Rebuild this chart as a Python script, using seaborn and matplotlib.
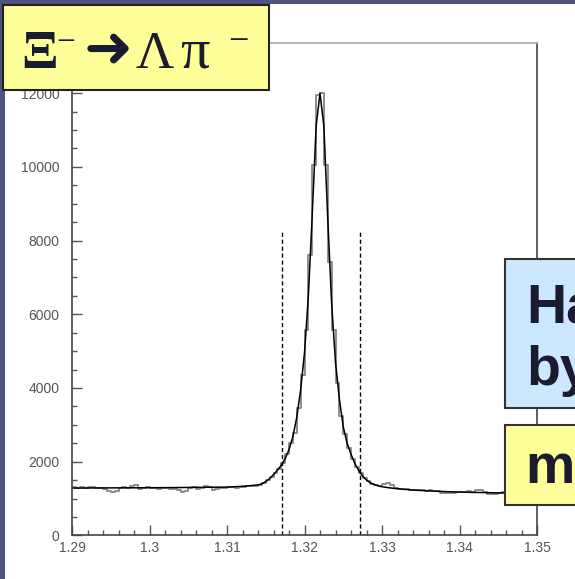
import numpy as np
import pandas as pd
import matplotlib
matplotlib.use("Agg")
import matplotlib.pyplot as plt
import seaborn as sns
from matplotlib.patches import Rectangle
from matplotlib.ticker import MultipleLocator

# Lambda-pi invariant mass spectrum, 0.5 MeV bins from 1.29 to 1.35 GeV
bin_lo = 1.29
bin_width = 0.0005
counts = [
    1300, 1290, 1310, 1295, 1320, 1325, 1290, 1280, 1270, 1200,
    1190, 1215, 1290, 1300, 1285, 1340, 1370, 1260, 1290, 1300,
    1275, 1290, 1260, 1280, 1295, 1270, 1260, 1240, 1190, 1210,
    1290, 1300, 1270, 1285, 1330, 1310, 1220, 1250, 1280, 1290,
    1300, 1310, 1295, 1320, 1310, 1330, 1340, 1350, 1380, 1420,
    1500, 1590, 1700, 1800, 1960, 2200, 2500, 2780, 3450, 4350,
    5570, 7600, 10040, 11950, 12000, 10040, 7430, 5570, 4130, 3250,
    2750, 2380, 2080, 1850, 1690, 1560, 1470, 1400, 1360, 1330,
    1390, 1410, 1380, 1290, 1270, 1260, 1250, 1240, 1230, 1245,
    1220, 1200, 1230, 1210, 1195, 1150, 1140, 1145, 1150, 1170,
    1190, 1180, 1200, 1190, 1230, 1225, 1180, 1120, 1115, 1130,
    1160, 1170, 1150, 1180, 1160, 1140, 1170, 1150, 1160, 1140,
]

# Fitted line shape (signal + background), evaluated at the bin edges
fit_counts = [
    1285, 1285, 1285, 1286, 1286, 1287, 1287, 1288, 1288, 1289,
    1289, 1290, 1290, 1290, 1291, 1291, 1292, 1292, 1293, 1293,
    1294, 1294, 1295, 1295, 1296, 1297, 1297, 1298, 1299, 1300,
    1301, 1302, 1303, 1304, 1305, 1306, 1307, 1308, 1309, 1310,
    1310, 1315, 1320, 1326, 1333, 1340, 1350, 1360, 1370, 1400,
    1460, 1540, 1650, 1770, 1900, 2080, 2330, 2680, 3200, 3950,
    4950, 6500, 8700, 11100, 12000, 11100, 8600, 6300, 4700, 3700,
    2950, 2500, 2200, 1950, 1760, 1610, 1500, 1430, 1380, 1345,
    1320, 1305, 1290, 1277, 1266, 1256, 1247, 1239, 1232, 1225,
    1219, 1213, 1208, 1203, 1198, 1194, 1190, 1186, 1183, 1180,
    1177, 1174, 1171, 1168, 1166, 1164, 1162, 1160, 1158, 1156,
    1154, 1152, 1150, 1149, 1147, 1146, 1144, 1143, 1142, 1141,
    1140,
]

# Mass window cuts
cut_lo, cut_hi = 1.3171, 1.3271
cut_top = 8250

x_ticks = [1.29, 1.30, 1.31, 1.32, 1.33, 1.34, 1.35]
x_labels = ["1.29", "1.3", "1.31", "1.32", "1.33", "1.34", "1.35"]
y_ticks = [0, 2000, 4000, 6000, 8000, 10000, 12000]
y_labels = ["0", "2000", "4000", "6000", "8000", "10000", "12000"]

W, H = 575, 579


def fxy(x, y):
    return x / W, 1 - y / H


sns.set_theme(style="white")
plt.rcParams["font.family"] = ["Liberation Sans", "DejaVu Sans"]

fig = plt.figure(figsize=(W / 100, H / 100), dpi=100, facecolor="#52527f")
fig.patches.append(Rectangle((5 / W, 0), 1, 1 - 4 / H, transform=fig.transFigure,
                             facecolor="white", edgecolor="none", zorder=-5))

ax = fig.add_axes([72 / W, (H - 535.4) / H, 465 / W, (535.4 - 43) / H])
ax.set_facecolor("white")
ax.set_zorder(1)

edges = [bin_lo + bin_width * i for i in range(len(counts) + 1)]
hist_df = pd.DataFrame({"mass": [e + bin_width / 2 for e in edges[:-1]],
                        "entries": counts})
fit_df = pd.DataFrame({"mass": edges, "fit": fit_counts})

sns.histplot(data=hist_df, x="mass", weights="entries", bins=edges, element="step",
             fill=False, color="#8c8c8c", linewidth=1.4, ax=ax)
sns.lineplot(data=fit_df, x="mass", y="fit", color="black", linewidth=1.1, ax=ax)
ax.vlines([cut_lo, cut_hi], 0, cut_top, colors="black", linewidth=1.0,
          linestyles=(0, (3, 2)))

ax.set_xlim(1.29, 1.35)
ax.set_ylim(0, 13360)
ax.set_xlabel("")
ax.set_ylabel("")
ax.set_xticks(x_ticks, x_labels)
ax.set_yticks(y_ticks, y_labels)
ax.xaxis.set_minor_locator(MultipleLocator(0.002))
ax.yaxis.set_minor_locator(MultipleLocator(500))
ax.tick_params(axis="both", which="both", direction="in", color="#555555",
               labelcolor="#555555", labelsize=10, width=1.0)
ax.tick_params(axis="both", which="major", length=7)
ax.tick_params(axis="both", which="minor", length=3.5)
ax.tick_params(axis="y", which="both", left=True, right=False, pad=9)
ax.tick_params(axis="x", which="both", bottom=True, top=False, pad=4)

for side in ["left", "bottom", "right"]:
    ax.spines[side].set_color("#444444")
    ax.spines[side].set_linewidth(1.2)
ax.spines["top"].set_color("#aaaaaa")
ax.spines["top"].set_linewidth(1.2)

ink = "#1b1b2f"

# Title box: decay channel
fig.patches.append(Rectangle(fxy(3, 90), 266 / W, 85 / H, transform=fig.transFigure,
                             facecolor="#ffff99", edgecolor="#222222", linewidth=1.5,
                             zorder=5))
serif = ["Liberation Serif", "DejaVu Serif"]
fig.text(*fxy(21, 68), "Ξ", family=serif, fontsize=39, fontweight="bold", color=ink,
         zorder=6, va="baseline", ha="left")
fig.text(*fxy(56, 51), "−", family=serif, fontsize=24, color=ink, zorder=6,
         va="baseline", ha="left")
fig.text(*fxy(84, 67), "➜", family=["DejaVu Sans"], fontsize=42, color=ink, zorder=6,
         va="baseline", ha="left", fontweight="bold")
fig.text(*fxy(135, 68), "Λ", family=serif, fontsize=38, color=ink, zorder=6,
         va="baseline", ha="left")
fig.text(*fxy(180, 68), "π", family=serif, fontsize=42, color=ink, zorder=6,
         va="baseline", ha="left")
fig.text(*fxy(228, 51), "−", family=serif, fontsize=26, color=ink, zorder=6,
         va="baseline", ha="left")

# Side boxes
fig.patches.append(Rectangle(fxy(505, 408), 200 / W, 149 / H, transform=fig.transFigure,
                             facecolor="#cce8ff", edgecolor="#333333", linewidth=1.5,
                             zorder=5))
fig.text(*fxy(526, 322), "Ha", fontsize=40, fontweight="bold", color=ink, zorder=6,
         va="baseline", ha="left")
fig.text(*fxy(526, 385), "by", fontsize=40, fontweight="bold", color=ink, zorder=6,
         va="baseline", ha="left")

fig.patches.append(Rectangle(fxy(505, 505), 200 / W, 80 / H, transform=fig.transFigure,
                             facecolor="#ffff99", edgecolor="#333333", linewidth=1.5,
                             zorder=5))
fig.text(*fxy(525, 483), "ma", fontsize=40, fontweight="bold", color=ink, zorder=6,
         va="baseline", ha="left")

fig.savefig("out.png", dpi=100, facecolor=fig.get_facecolor())
